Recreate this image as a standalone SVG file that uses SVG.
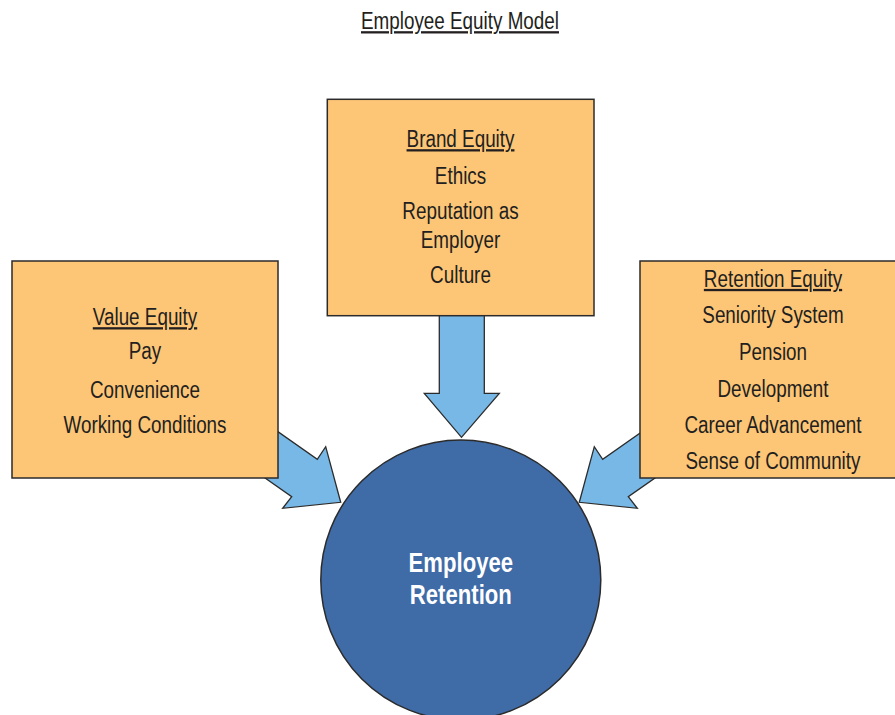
<svg xmlns="http://www.w3.org/2000/svg" width="895" height="715" viewBox="0 0 895 715">
<style>
.box{fill:#FDC677;stroke:#2b2b2b;stroke-width:1.5}
.arr{fill:#77B8E6;stroke:#2b2b2b;stroke-width:1.3;stroke-linejoin:miter}
.t{font-family:"Liberation Sans",Arial,sans-serif;font-size:23px;fill:#231F20;text-anchor:middle}
.u{text-decoration:underline}
.w{font-family:"Liberation Sans",Arial,sans-serif;font-size:27px;font-weight:bold;fill:#ffffff;text-anchor:middle}
</style>
<rect width="895" height="715" fill="#ffffff"/>
<text class="t u" transform="translate(460 29) scale(0.82 1)">Employee Equity Model</text>
<g id="connectors">
<polygon class="arr" points="439.3,312 439.3,393.3 424.3,393.3 461.5,437.3 499.3,393.3 484.3,393.3 484.3,312"/>
<polygon class="arr" points="240,405 317.3,459.3 325.7,446.7 340.7,502.3 282.7,508.3 291.7,496.7 215,443"/>
<polygon class="arr" points="680,405 602.7,459.3 594.3,446.7 579.3,502.3 637.3,508.3 628.3,496.7 705,443"/>
</g>
<g id="brand-equity">
<rect class="box" x="327.3" y="99.3" width="266.7" height="216.4"/>
<text class="t u" transform="translate(460.5 147) scale(0.82 1)">Brand Equity</text>
<text class="t" transform="translate(460.5 184) scale(0.82 1)">Ethics</text>
<text class="t" transform="translate(460.5 219) scale(0.82 1)">Reputation as</text>
<text class="t" transform="translate(460.5 247.5) scale(0.82 1)">Employer</text>
<text class="t" transform="translate(460.5 282.5) scale(0.82 1)">Culture</text>
</g>
<g id="value-equity">
<rect class="box" x="12" y="261" width="266" height="217"/>
<text class="t u" transform="translate(145 325) scale(0.82 1)">Value Equity</text>
<text class="t" transform="translate(145 358.5) scale(0.82 1)">Pay</text>
<text class="t" transform="translate(145 397.5) scale(0.82 1)">Convenience</text>
<text class="t" transform="translate(145 432.5) scale(0.82 1)">Working Conditions</text>
</g>
<g id="retention-equity">
<rect class="box" x="640" y="261" width="266" height="217"/>
<text class="t u" transform="translate(773 286.7) scale(0.82 1)">Retention Equity</text>
<text class="t" transform="translate(773 322.7) scale(0.82 1)">Seniority System</text>
<text class="t" transform="translate(773 360) scale(0.82 1)">Pension</text>
<text class="t" transform="translate(773 396.7) scale(0.82 1)">Development</text>
<text class="t" transform="translate(773 432.7) scale(0.82 1)">Career Advancement</text>
<text class="t" transform="translate(773 469) scale(0.82 1)">Sense of Community</text>
</g>
<g id="employee-retention">
<circle cx="460.8" cy="580" r="140" fill="#3F6BA6" stroke="#2b2b2b" stroke-width="1.5"/>
<text class="w" transform="translate(460.8 572) scale(0.82 1)">Employee</text>
<text class="w" transform="translate(460.8 604) scale(0.82 1)">Retention</text>
</g>
</svg>
